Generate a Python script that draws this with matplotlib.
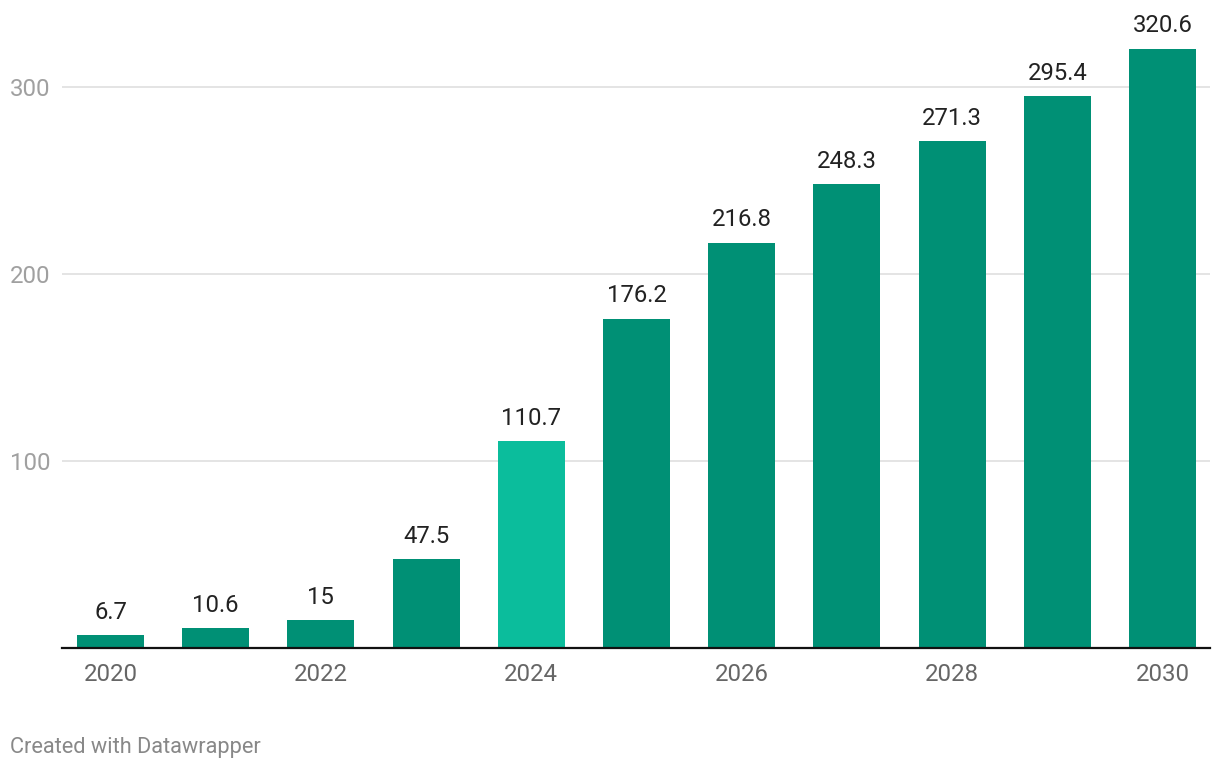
import matplotlib
matplotlib.use("Agg")
import matplotlib.pyplot as plt

# Font
matplotlib.rcParams['font.family'] = ['Roboto', 'DejaVu Sans']

# Data
years = [2020, 2021, 2022, 2023, 2024, 2025, 2026, 2027, 2028, 2029, 2030]
values = [6.7, 10.6, 15, 47.5, 110.7, 176.2, 216.8, 248.3, 271.3, 295.4, 320.6]
value_labels = ["6.7", "10.6", "15", "47.5", "110.7", "176.2", "216.8",
                "248.3", "271.3", "295.4", "320.6"]
highlight_year = 2024
xtick_years = [2020, 2022, 2024, 2026, 2028, 2030]
ytick_values = [100, 200, 300]

bar_color = "#009075"
highlight_color = "#0bbd9c"

# Create plot
fig = plt.figure(figsize=(12.2, 7.7), dpi=100)
ax = fig.add_axes([62 / 1220, 1 - 648 / 770, 1148 / 1220, 618 / 770])

colors = [highlight_color if y == highlight_year else bar_color for y in years]
ax.bar(years, values, width=0.637, color=colors, zorder=2)

for x, v, lbl in zip(years, values, value_labels):
    ax.annotate(lbl, (x, v), xytext=(0, 8), textcoords='offset points',
                ha='center', va='bottom', fontsize=17.2, color='#222222')

ax.set_xlim(2019.539, 2030.452)
ax.set_ylim(0, 330.5)

# Grid and spines
for s in ['top', 'right', 'left']:
    ax.spines[s].set_visible(False)
ax.spines['bottom'].set_color('#111111')
ax.spines['bottom'].set_linewidth(1.6)
ax.spines['bottom'].set_zorder(3)
ax.yaxis.grid(True, color='#e2e2e2', linewidth=1.3, zorder=0)

ax.set_xticks(xtick_years)
ax.set_xticklabels([str(y) for y in xtick_years])
ax.set_yticks(ytick_values)
ax.set_yticklabels([str(v) for v in ytick_values])
ax.tick_params(axis='x', length=0, pad=10.5, labelsize=17.3, labelcolor='#666666')
ax.tick_params(axis='y', length=0, pad=37.5, labelsize=17.3, labelcolor='#a0a0a0')
for t in ax.get_yticklabels():
    t.set_horizontalalignment('left')

fig.text(10 / 1220, 1 - 748 / 770, "Created with Datawrapper", fontsize=15.7,
         color='#888888', ha='left', va='center')

fig.savefig('out.png', dpi=100)
